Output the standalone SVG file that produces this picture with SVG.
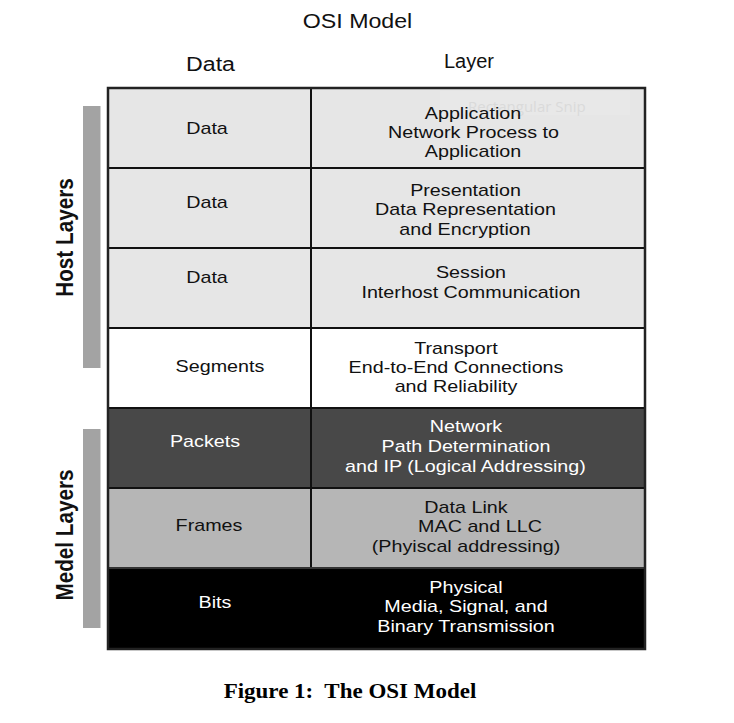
<svg xmlns="http://www.w3.org/2000/svg" width="734" height="723" viewBox="0 0 734 723">
<style>
.t{font-family:"Liberation Sans",Arial,sans-serif;font-size:17px;text-anchor:middle;fill:#111}
.w{fill:#fff}
.h{font-family:"Liberation Sans",Arial,sans-serif;font-size:20px;text-anchor:middle;fill:#111}
.side{font-family:"Liberation Sans",Arial,sans-serif;font-size:20.7px;font-weight:bold;text-anchor:middle;fill:#111}
.bar{fill:#a3a3a3}
.cell{stroke:#111;stroke-width:2}
</style>
<rect width="734" height="723" fill="#fff"/>
<text class="h" transform="translate(357.5 28) scale(1.16 1)">OSI Model</text>
<text class="h" transform="translate(210.5 71) scale(1.16 1)">Data</text>
<text class="h" x="469" y="68">Layer</text>

<g id="host-bar"><rect class="bar" x="83" y="106" width="17.5" height="262"/>
<text class="side" transform="translate(73 237.5) rotate(-90) scale(1 1.16)">Host Layers</text></g>
<g id="medel-bar"><rect class="bar" x="83" y="429" width="17.5" height="199"/>
<text class="side" transform="translate(73 535) rotate(-90) scale(1 1.16)">Medel Layers</text></g>

<g id="row-application">
<rect class="cell" x="108" y="88" width="203" height="80" fill="#e6e6e6"/>
<rect class="cell" x="311" y="88" width="334" height="80" fill="#e6e6e6"/>
<rect x="440" y="91" width="190" height="24" fill="#e8e8e8"/>
<text x="468" y="112" font-family="'Open Sans',sans-serif" font-size="15" fill="#dadada">Rectangular Snip</text>
<text class="t" transform="translate(207 134) scale(1.16 1)">Data</text>
<text class="t" transform="translate(473 119) scale(1.16 1)">Application</text>
<text class="t" transform="translate(473.5 138) scale(1.16 1)">Network Process to</text>
<text class="t" transform="translate(473 157) scale(1.16 1)">Application</text>
</g>
<g id="row-presentation">
<rect class="cell" x="108" y="168" width="203" height="80" fill="#e6e6e6"/>
<rect class="cell" x="311" y="168" width="334" height="80" fill="#e6e6e6"/>
<text class="t" transform="translate(207 208) scale(1.16 1)">Data</text>
<text class="t" transform="translate(465.5 195.5) scale(1.16 1)">Presentation</text>
<text class="t" transform="translate(465.5 215) scale(1.16 1)">Data Representation</text>
<text class="t" transform="translate(465 234.5) scale(1.16 1)">and Encryption</text>
</g>
<g id="row-session">
<rect class="cell" x="108" y="248" width="203" height="80" fill="#e6e6e6"/>
<rect class="cell" x="311" y="248" width="334" height="80" fill="#e6e6e6"/>
<text class="t" transform="translate(207 283) scale(1.16 1)">Data</text>
<text class="t" transform="translate(471 278) scale(1.16 1)">Session</text>
<text class="t" transform="translate(471 298) scale(1.16 1)">Interhost Communication</text>
</g>
<g id="row-transport">
<rect class="cell" x="108" y="328" width="203" height="80" fill="#fff"/>
<rect class="cell" x="311" y="328" width="334" height="80" fill="#fff"/>
<text class="t" transform="translate(220 372) scale(1.16 1)">Segments</text>
<text class="t" transform="translate(456 354) scale(1.16 1)">Transport</text>
<text class="t" transform="translate(456 373) scale(1.16 1)">End-to-End Connections</text>
<text class="t" transform="translate(456 392) scale(1.16 1)">and Reliability</text>
</g>
<g id="row-network">
<rect class="cell" x="108" y="408" width="203" height="80" fill="#484848"/>
<rect class="cell" x="311" y="408" width="334" height="80" fill="#484848"/>
<text class="t w" transform="translate(205 447) scale(1.16 1)">Packets</text>
<text class="t w" transform="translate(466 432) scale(1.16 1)">Network</text>
<text class="t w" transform="translate(466 452) scale(1.16 1)">Path Determination</text>
<text class="t w" transform="translate(465.5 472) scale(1.16 1)">and IP (Logical Addressing)</text>
</g>
<g id="row-datalink">
<rect class="cell" x="108" y="488" width="203" height="80" fill="#b6b6b6"/>
<rect class="cell" x="311" y="488" width="334" height="80" fill="#b6b6b6"/>
<text class="t" transform="translate(209 531) scale(1.16 1)">Frames</text>
<text class="t" transform="translate(480 532) scale(1.16 1)">MAC and LLC</text>
<text class="t" transform="translate(466 513) scale(1.16 1)">Data Link</text>
<text class="t" transform="translate(466 552) scale(1.16 1)">(Phyiscal addressing)</text>
</g>
<g id="row-physical">
<rect x="108" y="568" width="537" height="81" fill="#000" stroke="#333" stroke-width="2"/>
<text class="t w" transform="translate(215 608) scale(1.16 1)">Bits</text>
<text class="t w" transform="translate(466 593) scale(1.16 1)">Physical</text>
<text class="t w" transform="translate(466 612) scale(1.16 1)">Media, Signal, and</text>
<text class="t w" transform="translate(466 632) scale(1.16 1)">Binary Transmission</text>
</g>
<g id="connectors">
<rect x="108" y="88" width="537" height="561" fill="none" stroke="#222" stroke-width="2.5"/>
</g>
<text transform="translate(350 698) scale(1.15 1)" font-family="'Liberation Serif','Times New Roman',serif" font-size="20" font-weight="bold" text-anchor="middle" fill="#000" xml:space="preserve">Figure 1:  The OSI Model</text>
</svg>
